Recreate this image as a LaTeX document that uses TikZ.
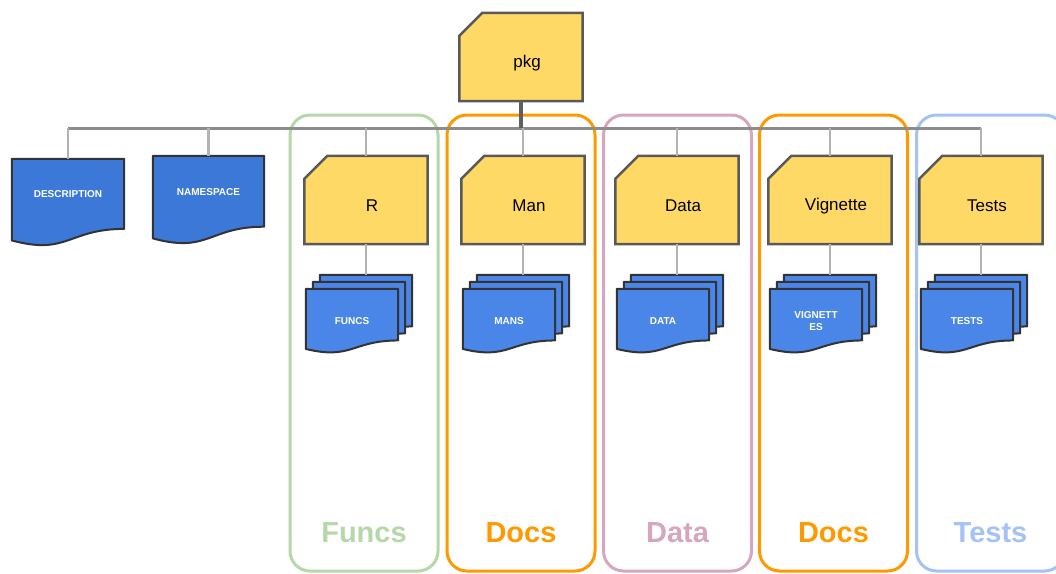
\documentclass[tikz,border=0pt]{standalone}
\usepackage{fontspec}
\setmainfont{Liberation Sans}
\usetikzlibrary{calc}

\definecolor{folderfill}{HTML}{FFD966}
\definecolor{folderline}{HTML}{595959}
\definecolor{docfill}{HTML}{4A86E8}
\definecolor{docfilldark}{HTML}{3C78D8}
\definecolor{docline}{HTML}{333333}
\definecolor{grpgreen}{HTML}{B6D7A8}
\definecolor{grporange}{HTML}{FF9900}
\definecolor{grppink}{HTML}{D5A6BD}
\definecolor{grpblue}{HTML}{A4C2F4}
\definecolor{stemgray}{HTML}{5F5F5F}
\definecolor{busgray}{HTML}{8C8C8C}
\definecolor{branchgray}{HTML}{B3B3B3}

\pgfdeclarelayer{groups}
\pgfdeclarelayer{background}
\pgfsetlayers{groups,background,main}

% folder with a snipped top-left corner, drawn round a named node
\newcommand\folderoutline[1]{%
  \filldraw[fill=folderfill, draw=folderline, line width=2.5pt, line join=miter]
    ($(#1.north west)+(0,23)$) -- ($(#1.north west)+(23,0)$) -- (#1.north east)
    -- (#1.south east) -- (#1.south west) -- cycle;}

% flowchart "document" shape with a wavy lower edge, drawn round a named node
\newcommand\docoutline[2]{%
  \filldraw[fill=#2, draw=docline, line width=2pt, line join=round]
    (#1.north west) -- (#1.north east)
    -- ($(#1.north east)!0.802!(#1.south east)$)
    .. controls ($(#1.north)!0.802!(#1.south)$) and ($(#1.north)!1.1075!(#1.south)$)
    .. ($(#1.north west)!0.934!(#1.south west)$) -- cycle;}

\begin{document}
\begin{tikzpicture}[x=1pt, y=-1pt,
  folder/.style={minimum width=123pt, minimum height=88pt, inner sep=0pt},
  folderlabel/.style={font=\fontsize{17}{20}\selectfont, inner sep=0pt, xshift=6pt, yshift=-6pt},
  singledoc/.style={inner sep=0pt},
  doclabel/.style={font=\bfseries\fontsize{10}{12}\selectfont, text=white, inner sep=0pt, yshift=8pt},
  docstk/.style={minimum width=92pt, minimum height=64pt, inner sep=0pt},
  doctext/.style={font=\bfseries\fontsize{10}{12}\selectfont, text=white, align=center},
  grp/.style={minimum width=148pt, minimum height=456pt, rounded corners=20pt, line width=3pt, inner sep=0pt},
  grplabel/.style={font=\bfseries\fontsize{29}{34}\selectfont, inner sep=0pt},
  stem/.style={draw=stemgray, line width=4pt},
  busline/.style={draw=busgray, line width=3pt},
  branch/.style={draw=branchgray, line width=2.5pt}]

\useasboundingbox (0,0) rectangle (1056,573);

% grouping frames
\begin{pgfonlayer}{groups}
  \node[grp, draw=grpgreen]  (gfuncs) at (364,343) {};
  \node[grp, draw=grporange] (gman)   at (521,343) {};
  \node[grp, draw=grppink]   (gdata)  at (677.5,343) {};
  \node[grp, draw=grporange] (gvig)   at (833.5,343) {};
  \node[grp, draw=grpblue]   (gtests) at (990.5,343) {};
\end{pgfonlayer}
\node[grplabel, text=grpgreen]  (lfuncs) at (364,533) {Funcs};
\node[grplabel, text=grporange] (lman)   at (521,533) {Docs};
\node[grplabel, text=grppink]   (ldata)  at (677.5,533) {Data};
\node[grplabel, text=grporange] (lvig)   at (833.5,533) {Docs};
\node[grplabel, text=grpblue]   (ltests) at (990.5,533) {Tests};

% root folder
\node[folder, label={[folderlabel]center:pkg}] (pkg) at (521,57) {};
\begin{pgfonlayer}{background}\folderoutline{pkg}\end{pgfonlayer}

% top-level files
\node[singledoc, minimum width=112pt, minimum height=87pt,
      label={[doclabel]center:DESCRIPTION}] (desc) at (68,202.5) {};
\node[singledoc, minimum width=111pt, minimum height=88pt,
      label={[doclabel]center:NAMESPACE}] (ns) at (208.5,200) {};
\begin{pgfonlayer}{background}
  \docoutline{desc}{docfilldark}
  \docoutline{ns}{docfilldark}
\end{pgfonlayer}

% sub-folders, each with a stack of files beneath it
\foreach \f/\lab/\x/\p/\t in {R/R/366/funcs/FUNCS, Man/Man/523/mans/MANS,
    Data/Data/677/data/DATA, Vig/Vignette/830/vig/{VIGNETT\\ES},
    Tests/Tests/981/tests/TESTS}{
  \node[folder, label={[folderlabel]center:\lab}] (\f) at (\x,200) {};
  \node[docstk] (\p3) at (\x,307) {};
  \node[docstk] (\p2) at (\x-7,314) {};
  \node[docstk, doctext] (\p1) at (\x-14,321) {\t};
  \begin{pgfonlayer}{background}
    \folderoutline{\f}
    \docoutline{\p3}{docfill}
    \docoutline{\p2}{docfill}
    \docoutline{\p1}{docfill}
  \end{pgfonlayer}
  \draw[branch] (\f.south) -- (\p3.north);
}

% tree connectors
\coordinate (bus) at (521,128);
\draw[busline] (bus -| desc.north) -- (bus -| Tests.north);
\foreach \n in {desc,ns,R,Man,Data,Vig,Tests}{
  \draw[branch] (bus -| \n.north) -- (\n.north);
}
\draw[stem] (pkg.south) -- (bus);

\end{tikzpicture}
\end{document}
